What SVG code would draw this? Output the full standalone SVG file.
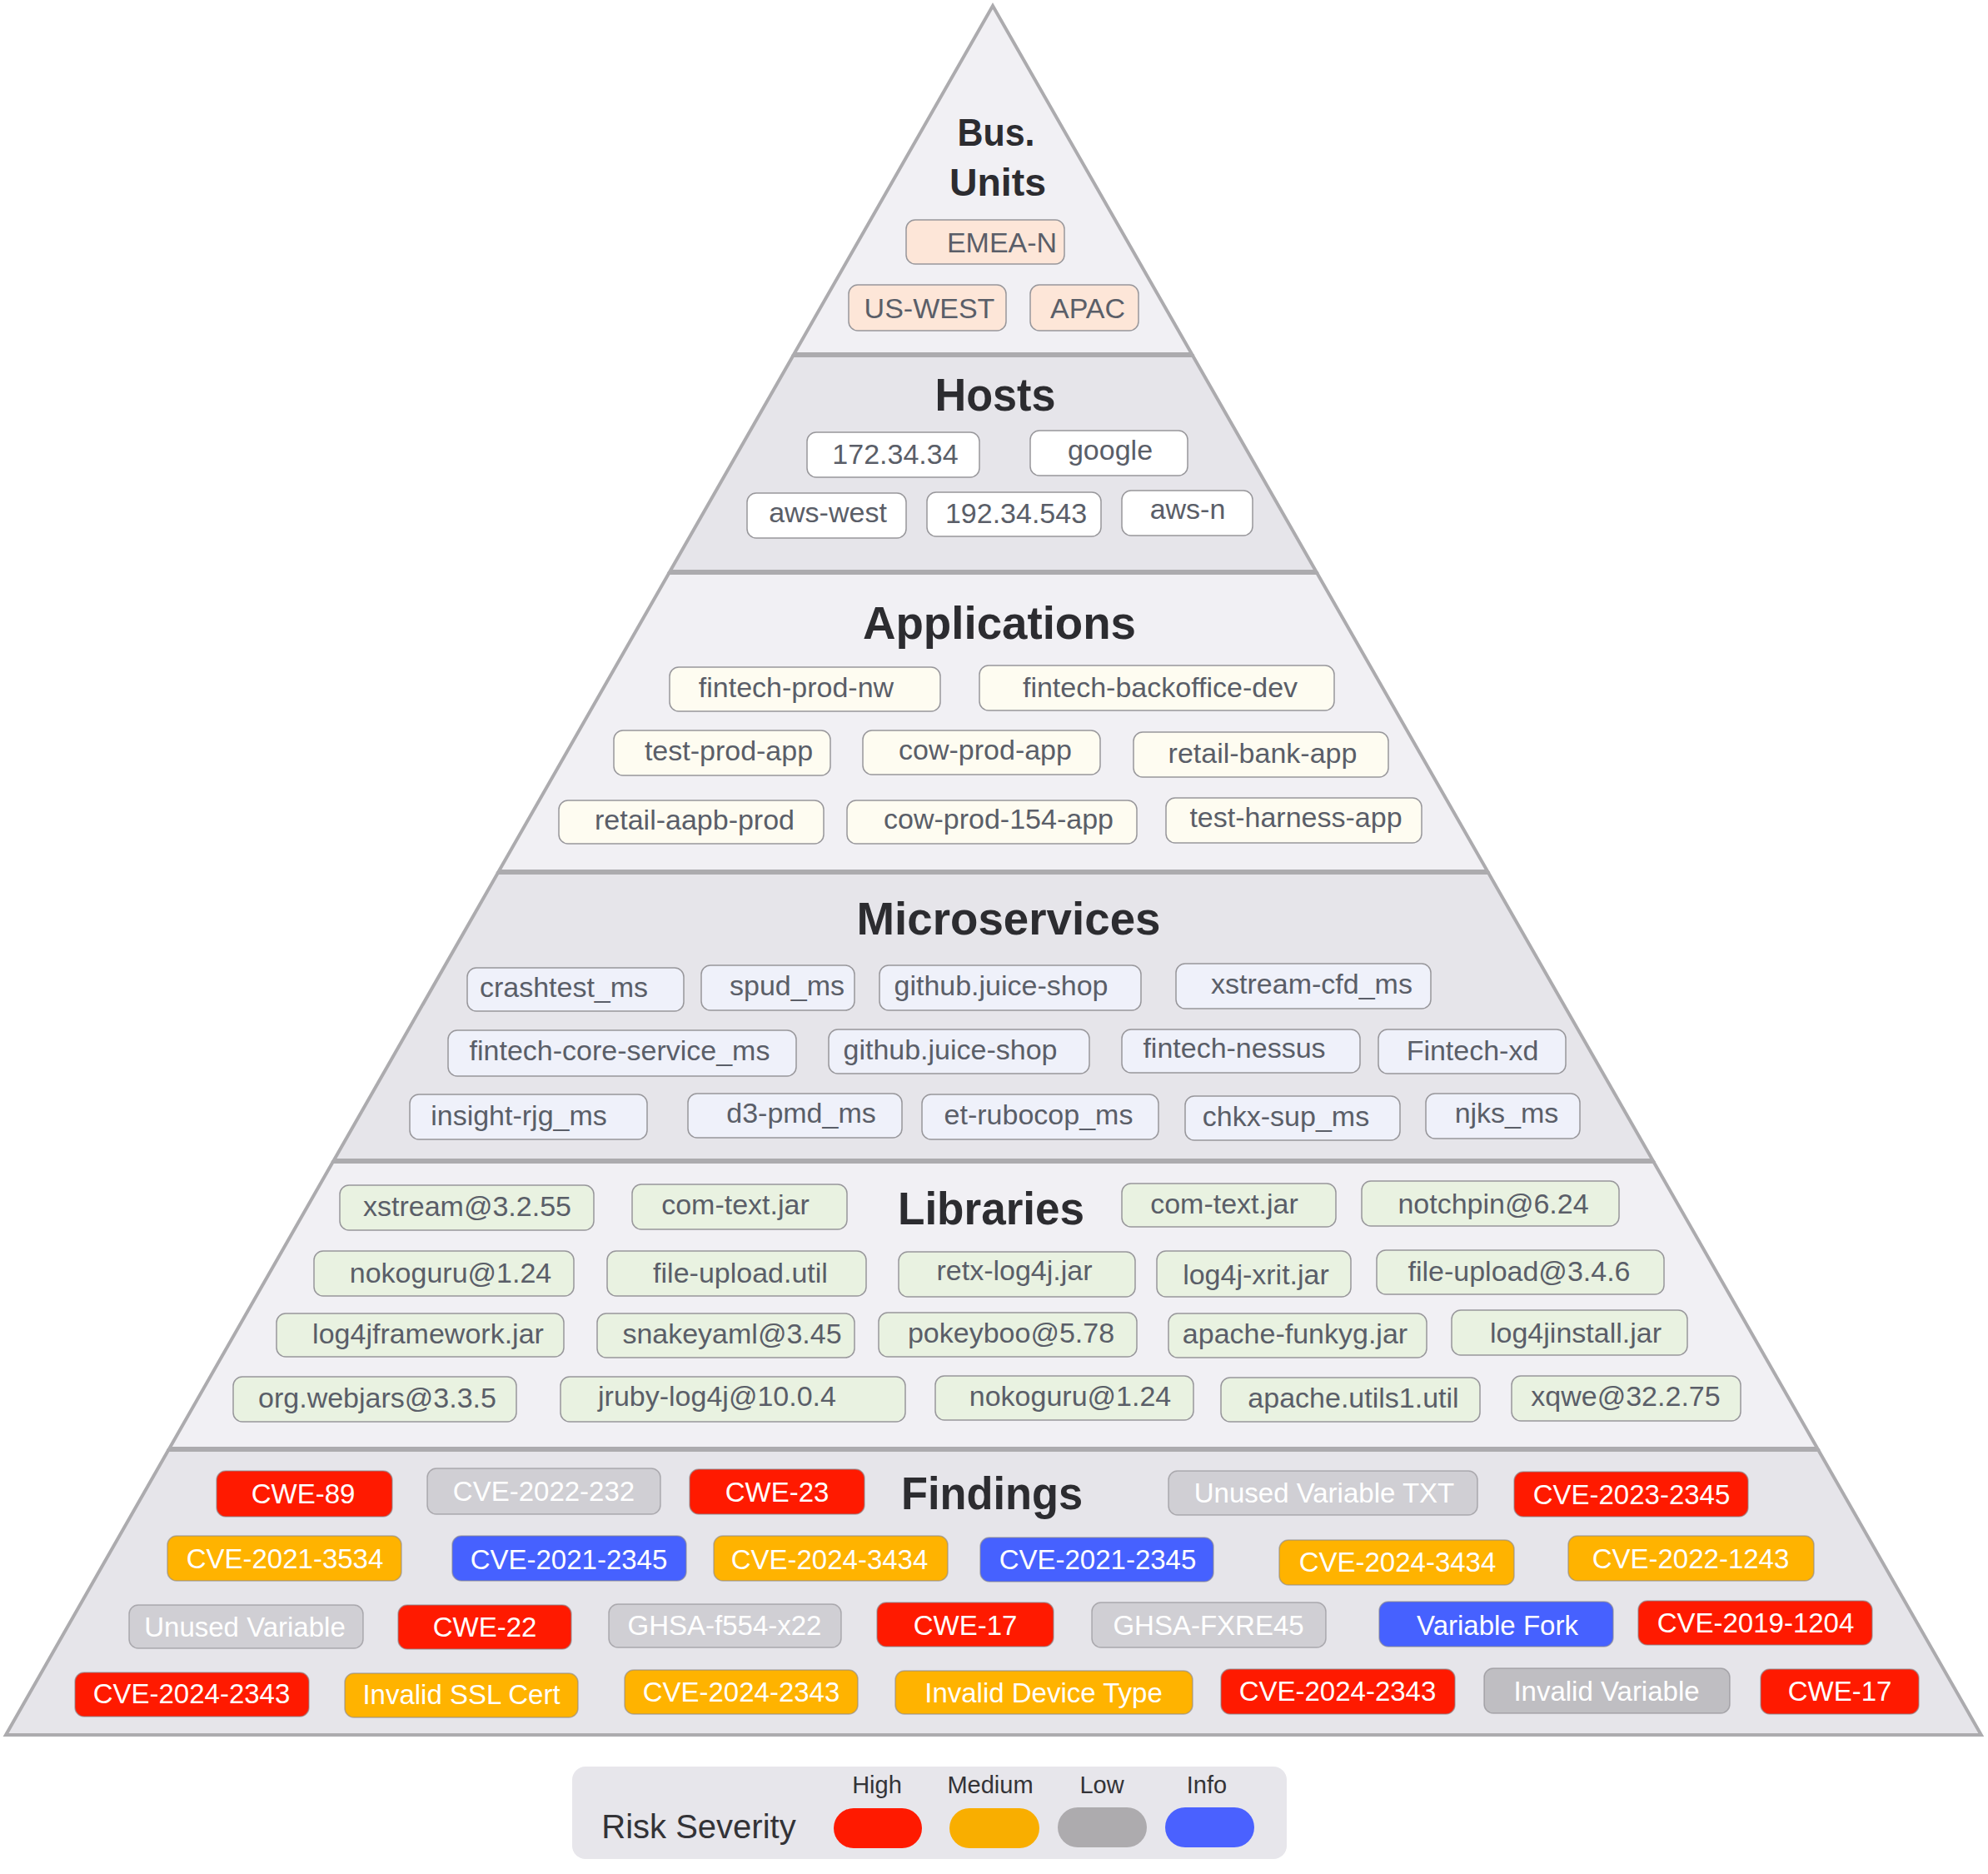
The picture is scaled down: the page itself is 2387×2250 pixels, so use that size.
<svg xmlns="http://www.w3.org/2000/svg" width="2387" height="2250" viewBox="0 0 2387 2250">
<style>
.bl{fill:#f1f0f4;stroke:#acabae;stroke-width:4;stroke-linejoin:miter}
.bd{fill:#e6e5ea;stroke:#acabae;stroke-width:4;stroke-linejoin:miter}
.t{font-family:"Liberation Sans",Arial,sans-serif;font-weight:700;fill:#2c2c30;text-anchor:middle}
.l{font-family:"Liberation Sans",Arial,sans-serif;font-size:34px;fill:#5a5e68;text-anchor:middle}
.f{font-family:"Liberation Sans",Arial,sans-serif;font-size:33px;fill:#ffffff;text-anchor:middle}
.bx{stroke:#98979b;stroke-width:1.5}
.fb{stroke:#8a898d;stroke-opacity:.6;stroke-width:1.5}
.bu{fill:#fde6d8}
.ho{fill:#ffffff}
.ap{fill:#fefcf1}
.ms{fill:#eff1fa}
.li{fill:#e9f2e1}
.red{fill:#ff1a00}
.org{fill:#ffb300}
.blu{fill:#4661ff}
.gry{fill:#d0cfd4}
.gr2{fill:#bfbec2}
.lg{font-family:"Liberation Sans",Arial,sans-serif;fill:#333337;text-anchor:middle}
</style>
<g id="pyramid">
<polygon id="band-bus-units" class="bl" points="1192,7 1431,425 953.4,425"/>
<polygon id="band-hosts" class="bd" points="952.3,427 1432.1,427 1580.2,686 804.4,686"/>
<polygon id="band-applications" class="bl" points="803.3,688 1581.3,688 1786,1046 598.9,1046"/>
<polygon id="band-microservices" class="bd" points="597.8,1048 1787.1,1048 1984.4,1393 400.9,1393"/>
<polygon id="band-libraries" class="bl" points="399.7,1395 1985.5,1395 2182.2,1739 203.4,1739"/>
<polygon id="band-findings" class="bd" points="202.2,1741 2183.3,1741 2378.8,2083 7,2083"/>
</g>
<g id="titles">
<text class="t" x="1196" y="175" font-size="47" textLength="93" lengthAdjust="spacingAndGlyphs">Bus.</text>
<text class="t" x="1198" y="235" font-size="47" textLength="116" lengthAdjust="spacingAndGlyphs">Units</text>
<text class="t" x="1195" y="493" font-size="56" textLength="145" lengthAdjust="spacingAndGlyphs">Hosts</text>
<text class="t" x="1200" y="767" font-size="56" textLength="328" lengthAdjust="spacingAndGlyphs">Applications</text>
<text class="t" x="1211" y="1122" font-size="56" textLength="365" lengthAdjust="spacingAndGlyphs">Microservices</text>
<text class="t" x="1190" y="1470" font-size="56" textLength="224" lengthAdjust="spacingAndGlyphs">Libraries</text>
<text class="t" x="1191" y="1812" font-size="56" textLength="218" lengthAdjust="spacingAndGlyphs">Findings</text>
</g>
<g id="connectors"></g>
<g id="bus-units">
<g id="n1"><rect class="bx bu" x="1088" y="264" width="190" height="53" rx="11"/><text class="l" x="1203" y="303">EMEA-N</text></g>
<g id="n2"><rect class="bx bu" x="1019" y="342" width="189" height="55" rx="11"/><text class="l" x="1116" y="382">US-WEST</text></g>
<g id="n3"><rect class="bx bu" x="1237" y="342" width="130" height="55" rx="11"/><text class="l" x="1306" y="382">APAC</text></g>
</g>
<g id="hosts">
<g id="n4"><rect class="bx ho" x="969" y="519" width="207" height="54" rx="11"/><text class="l" x="1075" y="557">172.34.34</text></g>
<g id="n5"><rect class="bx ho" x="1237" y="517" width="189" height="54" rx="11"/><text class="l" x="1333" y="552">google</text></g>
<g id="n6"><rect class="bx ho" x="897" y="592" width="191" height="54" rx="11"/><text class="l" x="994" y="627">aws-west</text></g>
<g id="n7"><rect class="bx ho" x="1113" y="591" width="209" height="53" rx="11"/><text class="l" x="1220" y="628">192.34.543</text></g>
<g id="n8"><rect class="bx ho" x="1347" y="589" width="157" height="54" rx="11"/><text class="l" x="1426" y="623">aws-n</text></g>
</g>
<g id="applications">
<g id="n9"><rect class="bx ap" x="804" y="801" width="325" height="53" rx="11"/><text class="l" x="956" y="837">fintech-prod-nw</text></g>
<g id="n10"><rect class="bx ap" x="1176" y="799" width="426" height="54" rx="11"/><text class="l" x="1393" y="837">fintech-backoffice-dev</text></g>
<g id="n11"><rect class="bx ap" x="737" y="877" width="260" height="54" rx="11"/><text class="l" x="875" y="913">test-prod-app</text></g>
<g id="n12"><rect class="bx ap" x="1036" y="877" width="285" height="53" rx="11"/><text class="l" x="1183" y="912">cow-prod-app</text></g>
<g id="n13"><rect class="bx ap" x="1361" y="879" width="306" height="54" rx="11"/><text class="l" x="1516" y="916">retail-bank-app</text></g>
<g id="n14"><rect class="bx ap" x="671" y="961" width="318" height="52" rx="11"/><text class="l" x="834" y="996">retail-aapb-prod</text></g>
<g id="n15"><rect class="bx ap" x="1017" y="961" width="348" height="52" rx="11"/><text class="l" x="1199" y="995">cow-prod-154-app</text></g>
<g id="n16"><rect class="bx ap" x="1400" y="958" width="307" height="54" rx="11"/><text class="l" x="1556" y="993">test-harness-app</text></g>
</g>
<g id="microservices">
<g id="n17"><rect class="bx ms" x="561" y="1162" width="260" height="52" rx="11"/><text class="l" x="677" y="1197">crashtest_ms</text></g>
<g id="n18"><rect class="bx ms" x="842" y="1159" width="184" height="54" rx="11"/><text class="l" x="945" y="1195">spud_ms</text></g>
<g id="n19"><rect class="bx ms" x="1056" y="1159" width="314" height="54" rx="11"/><text class="l" x="1202" y="1195">github.juice-shop</text></g>
<g id="n20"><rect class="bx ms" x="1412" y="1157" width="306" height="54" rx="11"/><text class="l" x="1575" y="1193">xstream-cfd_ms</text></g>
<g id="n21"><rect class="bx ms" x="538" y="1237" width="418" height="55" rx="11"/><text class="l" x="744" y="1273">fintech-core-service_ms</text></g>
<g id="n22"><rect class="bx ms" x="995" y="1236" width="313" height="53" rx="11"/><text class="l" x="1141" y="1272">github.juice-shop</text></g>
<g id="n23"><rect class="bx ms" x="1347" y="1236" width="286" height="52" rx="11"/><text class="l" x="1482" y="1270">fintech-nessus</text></g>
<g id="n24"><rect class="bx ms" x="1655" y="1236" width="225" height="53" rx="11"/><text class="l" x="1768" y="1273">Fintech-xd</text></g>
<g id="n25"><rect class="bx ms" x="492" y="1314" width="285" height="54" rx="11"/><text class="l" x="623" y="1351">insight-rjg_ms</text></g>
<g id="n26"><rect class="bx ms" x="826" y="1313" width="257" height="53" rx="11"/><text class="l" x="962" y="1348">d3-pmd_ms</text></g>
<g id="n27"><rect class="bx ms" x="1107" y="1314" width="284" height="54" rx="11"/><text class="l" x="1247" y="1350">et-rubocop_ms</text></g>
<g id="n28"><rect class="bx ms" x="1423" y="1316" width="258" height="53" rx="11"/><text class="l" x="1544" y="1352">chkx-sup_ms</text></g>
<g id="n29"><rect class="bx ms" x="1712" y="1313" width="185" height="54" rx="11"/><text class="l" x="1809" y="1348">njks_ms</text></g>
</g>
<g id="libraries">
<g id="n30"><rect class="bx li" x="408" y="1423" width="305" height="54" rx="11"/><text class="l" x="561" y="1460">xstream@3.2.55</text></g>
<g id="n31"><rect class="bx li" x="759" y="1422" width="258" height="54" rx="11"/><text class="l" x="883" y="1458">com-text.jar</text></g>
<g id="n32"><rect class="bx li" x="1347" y="1421" width="257" height="52" rx="11"/><text class="l" x="1470" y="1457">com-text.jar</text></g>
<g id="n33"><rect class="bx li" x="1635" y="1418" width="309" height="54" rx="11"/><text class="l" x="1793" y="1457">notchpin@6.24</text></g>
<g id="n34"><rect class="bx li" x="377" y="1502" width="312" height="54" rx="11"/><text class="l" x="541" y="1540">nokoguru@1.24</text></g>
<g id="n35"><rect class="bx li" x="729" y="1502" width="311" height="54" rx="11"/><text class="l" x="889" y="1540">file-upload.util</text></g>
<g id="n36"><rect class="bx li" x="1079" y="1503" width="284" height="54" rx="11"/><text class="l" x="1218" y="1537">retx-log4j.jar</text></g>
<g id="n37"><rect class="bx li" x="1389" y="1502" width="233" height="55" rx="11"/><text class="l" x="1508" y="1542">log4j-xrit.jar</text></g>
<g id="n38"><rect class="bx li" x="1653" y="1501" width="345" height="53" rx="11"/><text class="l" x="1824" y="1538">file-upload@3.4.6</text></g>
<g id="n39"><rect class="bx li" x="332" y="1577" width="345" height="52" rx="11"/><text class="l" x="514" y="1613">log4jframework.jar</text></g>
<g id="n40"><rect class="bx li" x="717" y="1577" width="309" height="53" rx="11"/><text class="l" x="879" y="1613">snakeyaml@3.45</text></g>
<g id="n41"><rect class="bx li" x="1055" y="1576" width="310" height="53" rx="11"/><text class="l" x="1214" y="1612">pokeyboo@5.78</text></g>
<g id="n42"><rect class="bx li" x="1403" y="1577" width="310" height="53" rx="11"/><text class="l" x="1555" y="1613">apache-funkyg.jar</text></g>
<g id="n43"><rect class="bx li" x="1743" y="1573" width="283" height="54" rx="11"/><text class="l" x="1892" y="1612">log4jinstall.jar</text></g>
<g id="n44"><rect class="bx li" x="280" y="1653" width="340" height="54" rx="11"/><text class="l" x="453" y="1690">org.webjars@3.3.5</text></g>
<g id="n45"><rect class="bx li" x="673" y="1653" width="414" height="54" rx="11"/><text class="l" x="861" y="1688">jruby-log4j@10.0.4</text></g>
<g id="n46"><rect class="bx li" x="1123" y="1652" width="310" height="53" rx="11"/><text class="l" x="1285" y="1688">nokoguru@1.24</text></g>
<g id="n47"><rect class="bx li" x="1466" y="1654" width="311" height="53" rx="11"/><text class="l" x="1625" y="1690">apache.utils1.util</text></g>
<g id="n48"><rect class="bx li" x="1815" y="1652" width="275" height="54" rx="11"/><text class="l" x="1952" y="1688">xqwe@32.2.75</text></g>
</g>
<g id="findings">
<g id="n49"><rect class="fb red" x="260" y="1766" width="211" height="55" rx="11"/><text class="f" x="364" y="1805">CWE-89</text></g>
<g id="n50"><rect class="fb gry" x="513" y="1763" width="280" height="55" rx="11"/><text class="f" x="653" y="1802">CVE-2022-232</text></g>
<g id="n51"><rect class="fb red" x="828" y="1764" width="210" height="54" rx="11"/><text class="f" x="933" y="1803">CWE-23</text></g>
<g id="n52"><rect class="fb gry" x="1403" y="1766" width="371" height="53" rx="11"/><text class="f" x="1590" y="1804">Unused Variable TXT</text></g>
<g id="n53"><rect class="fb red" x="1818" y="1767" width="281" height="54" rx="11"/><text class="f" x="1959" y="1806">CVE-2023-2345</text></g>
<g id="n54"><rect class="fb org" x="201" y="1844" width="281" height="54" rx="11"/><text class="f" x="342" y="1883">CVE-2021-3534</text></g>
<g id="n55"><rect class="fb blu" x="543" y="1844" width="281" height="54" rx="11"/><text class="f" x="683" y="1884">CVE-2021-2345</text></g>
<g id="n56"><rect class="fb org" x="857" y="1844" width="281" height="54" rx="11"/><text class="f" x="996" y="1884">CVE-2024-3434</text></g>
<g id="n57"><rect class="fb blu" x="1177" y="1846" width="280" height="53" rx="11"/><text class="f" x="1318" y="1884">CVE-2021-2345</text></g>
<g id="n58"><rect class="fb org" x="1536" y="1849" width="282" height="54" rx="11"/><text class="f" x="1678" y="1887">CVE-2024-3434</text></g>
<g id="n59"><rect class="fb org" x="1883" y="1844" width="295" height="54" rx="11"/><text class="f" x="2030" y="1883">CVE-2022-1243</text></g>
<g id="n60"><rect class="fb gry" x="155" y="1927" width="281" height="52" rx="11"/><text class="f" x="294" y="1965">Unused Variable</text></g>
<g id="n61"><rect class="fb red" x="478" y="1927" width="208" height="53" rx="11"/><text class="f" x="582" y="1965">CWE-22</text></g>
<g id="n62"><rect class="fb gry" x="731" y="1926" width="279" height="52" rx="11"/><text class="f" x="870" y="1963">GHSA-f554-x22</text></g>
<g id="n63"><rect class="fb red" x="1053" y="1924" width="212" height="53" rx="11"/><text class="f" x="1159" y="1963">CWE-17</text></g>
<g id="n64"><rect class="fb gry" x="1311" y="1924" width="281" height="54" rx="11"/><text class="f" x="1451" y="1963">GHSA-FXRE45</text></g>
<g id="n65"><rect class="fb blu" x="1656" y="1923" width="281" height="54" rx="11"/><text class="f" x="1798" y="1963">Variable Fork</text></g>
<g id="n66"><rect class="fb red" x="1967" y="1922" width="281" height="53" rx="11"/><text class="f" x="2108" y="1960">CVE-2019-1204</text></g>
<g id="n67"><rect class="fb red" x="90" y="2008" width="281" height="53" rx="11"/><text class="f" x="230" y="2045">CVE-2024-2343</text></g>
<g id="n68"><rect class="fb org" x="414" y="2009" width="280" height="53" rx="11"/><text class="f" x="554" y="2046">Invalid SSL Cert</text></g>
<g id="n69"><rect class="fb org" x="750" y="2005" width="280" height="53" rx="11"/><text class="f" x="890" y="2043">CVE-2024-2343</text></g>
<g id="n70"><rect class="fb org" x="1075" y="2006" width="357" height="52" rx="11"/><text class="f" x="1253" y="2044">Invalid Device Type</text></g>
<g id="n71"><rect class="fb red" x="1466" y="2004" width="281" height="54" rx="11"/><text class="f" x="1606" y="2042">CVE-2024-2343</text></g>
<g id="n72"><rect class="fb gr2" x="1782" y="2003" width="295" height="54" rx="11"/><text class="f" x="1929" y="2042">Invalid Variable</text></g>
<g id="n73"><rect class="fb red" x="2114" y="2004" width="190" height="54" rx="11"/><text class="f" x="2209" y="2042">CWE-17</text></g>
</g>
<g id="legend">
<rect x="687" y="2121" width="858" height="111" rx="16" fill="#e7e6eb"/>
<text class="lg" x="839" y="2207" font-size="40">Risk Severity</text>
<text class="lg" x="1053" y="2153" font-size="29">High</text>
<text class="lg" x="1189" y="2153" font-size="29">Medium</text>
<text class="lg" x="1323" y="2153" font-size="29">Low</text>
<text class="lg" x="1449" y="2153" font-size="29">Info</text>
<rect x="1001" y="2171" width="106" height="48" rx="24" ry="24" fill="#ff1a00"/>
<rect x="1140" y="2171" width="108" height="48" rx="24" ry="24" fill="#f9ae00"/>
<rect x="1270" y="2170" width="107" height="48" rx="24" ry="24" fill="#adabae"/>
<rect x="1399" y="2170" width="107" height="48" rx="24" ry="24" fill="#4a61ff"/>
</g>
</svg>
